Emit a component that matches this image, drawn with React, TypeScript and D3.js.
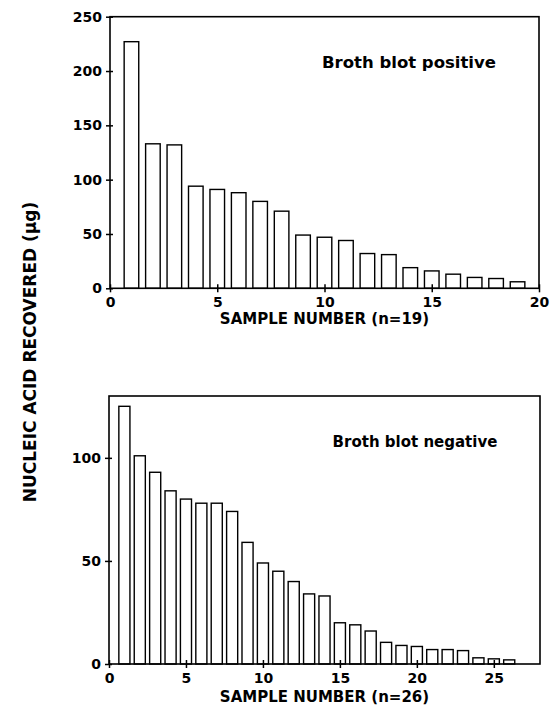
import React, { useEffect, useRef } from "react";
import * as d3 from "d3";

// values (µg per sample)
const posValues = [227, 133, 132, 94, 91, 88, 80, 71, 49, 47, 44, 32, 31, 19, 16, 13, 10, 9, 6];
const negValues = [125, 101, 93, 84, 80, 78, 78, 74, 59, 49, 45, 40, 34, 33, 20, 19, 16, 10.5, 9, 8.5, 7, 7, 6.5, 3, 2.5, 2];

const posXTicks = [0, 5, 10, 15, 20];
const posYTicks = [0, 50, 100, 150, 200, 250];
const negXTicks = [0, 5, 10, 15, 20, 25];
const negYTicks = [0, 50, 100];

const FONT = "'DejaVu Sans', sans-serif";

type Panel = {
  values: number[];
  xMax: number;
  yMax: number;
  xTicks: number[];
  yTicks: number[];
  left: number;
  right: number;
  top: number;
  bottom: number;
  barW: number;
  title: string;
  titleX: number;
  titleY: number;
  titleSize: number;
  xLabel: string;
  xLabelDy: number;
};

const panels: Panel[] = [
  {
    values: posValues, xMax: 20, yMax: 250, xTicks: posXTicks, yTicks: posYTicks,
    left: 110, right: 539, top: 16.7, bottom: 288.3, barW: 0.68,
    title: "Broth blot positive", titleX: 409, titleY: 68, titleSize: 16.5,
    xLabel: "SAMPLE NUMBER (n=19)", xLabelDy: 36,
  },
  {
    values: negValues, xMax: 28, yMax: 130, xTicks: negXTicks, yTicks: negYTicks,
    left: 109, right: 540, top: 396, bottom: 664, barW: 0.72,
    title: "Broth blot negative", titleX: 415, titleY: 447, titleSize: 15,
    xLabel: "SAMPLE NUMBER (n=26)", xLabelDy: 38,
  },
];

function drawPanel(svg: d3.Selection<SVGSVGElement, unknown, null, undefined>, p: Panel) {
  const x = d3.scaleLinear().domain([0, p.xMax]).range([p.left, p.right]);
  const y = d3.scaleLinear().domain([0, p.yMax]).range([p.bottom, p.top]);
  const g = svg.append("g");

  // bars
  g.selectAll("rect.bar")
    .data(p.values)
    .enter()
    .append("rect")
    .attr("class", "bar")
    .attr("x", (d, i) => x(i + 1 - p.barW / 2))
    .attr("width", x(p.barW) - x(0))
    .attr("y", d => y(d))
    .attr("height", d => y(0) - y(d))
    .attr("fill", "#fff")
    .attr("stroke", "#000")
    .attr("stroke-width", 1.4);

  // frame
  g.append("rect")
    .attr("x", p.left)
    .attr("y", p.top)
    .attr("width", p.right - p.left)
    .attr("height", p.bottom - p.top)
    .attr("fill", "none")
    .attr("stroke", "#000")
    .attr("stroke-width", 1.6);

  // x axis
  const xa = g.append("g")
    .attr("transform", `translate(0,${p.bottom})`)
    .call(d3.axisBottom(x).tickValues(p.xTicks).tickFormat(d3.format("d")).tickSizeOuter(0));
  xa.select(".domain").remove();
  xa.selectAll(".tick line").attr("y1", -4).attr("y2", 4).attr("stroke-width", 1.5);
  xa.selectAll(".tick text")
    .attr("y", 9)
    .attr("font-family", FONT)
    .attr("font-weight", "bold")
    .attr("font-size", 14)
    .attr("fill", "#000");

  // y axis
  const ya = g.append("g")
    .attr("transform", `translate(${p.left},0)`)
    .call(d3.axisLeft(y).tickValues(p.yTicks).tickFormat(d3.format("d")).tickSizeOuter(0));
  ya.select(".domain").remove();
  ya.selectAll(".tick line").attr("x1", -4).attr("x2", 3).attr("stroke-width", 1.5);
  ya.selectAll(".tick text")
    .attr("x", -8)
    .attr("font-family", FONT)
    .attr("font-weight", "bold")
    .attr("font-size", 14)
    .attr("fill", "#000");

  g.append("text")
    .attr("x", p.titleX)
    .attr("y", p.titleY)
    .attr("text-anchor", "middle")
    .attr("font-family", FONT)
    .attr("font-weight", "bold")
    .attr("font-size", p.titleSize)
    .text(p.title);

  g.append("text")
    .attr("x", (p.left + p.right) / 2)
    .attr("y", p.bottom + p.xLabelDy)
    .attr("text-anchor", "middle")
    .attr("font-family", FONT)
    .attr("font-weight", "bold")
    .attr("font-size", 15)
    .text(p.xLabel);
}

export default function App() {
  const ref = useRef<SVGSVGElement>(null);

  useEffect(() => {
    const svg = d3.select(ref.current as SVGSVGElement);
    svg.selectAll("*").remove();
    svg.append("rect").attr("width", 551).attr("height", 711).attr("fill", "#fff");
    panels.forEach(p => drawPanel(svg, p));

    svg.append("text")
      .attr("transform", "translate(36,352) rotate(-90)")
      .attr("text-anchor", "middle")
      .attr("font-family", FONT)
      .attr("font-weight", "bold")
      .attr("font-size", 17)
      .text("NUCLEIC ACID RECOVERED (μg)");
  }, []);

  return (
    <svg ref={ref} width={551} height={711} style={{ position: "absolute", left: 0, top: 0 }} />
  );
}
